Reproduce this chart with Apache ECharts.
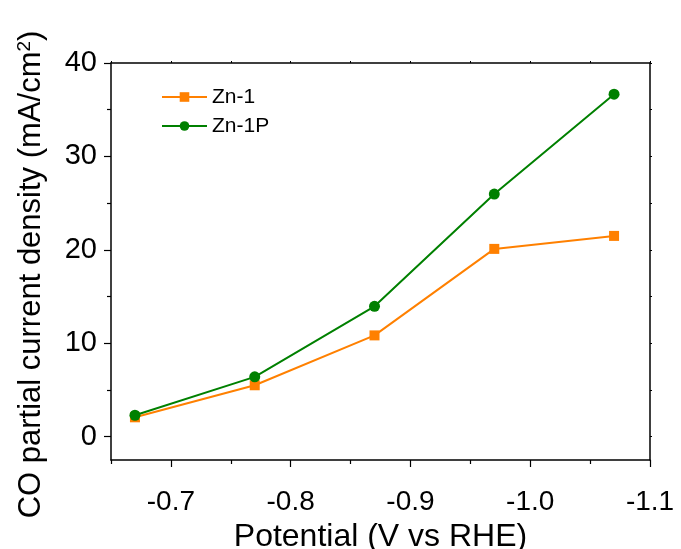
<!DOCTYPE html>
<html>
<head>
<meta charset="utf-8">
<script src="https://cdn.jsdelivr.net/npm/echarts@6/dist/echarts.min.js"></script>
<style>
  html, body { margin: 0; padding: 0; background: #fff; }
  #chart { width: 681px; height: 549px; }
</style>
</head>
<body>
<div id="chart"></div>
<script>
// potentials (V vs RHE) and CO partial current density (mA/cm2)
const potentials = [-0.67, -0.77, -0.87, -0.97, -1.07];
const zn1 = [2.07, 5.5, 10.84, 20.1, 21.49];
const zn1p = [2.29, 6.4, 13.95, 25.97, 36.66];

const xMajor = [-0.7, -0.8, -0.9, -1.0, -1.1];
const xMinor = [-0.65, -0.75, -0.85, -0.95, -1.05];
const yMajor = [0, 10, 20, 30, 40];
const yMinor = [5, 15, 25, 35];

const font = 'Liberation Sans, Arial, sans-serif';
const black = '#000';

function pairs(xs, ys) {
    return xs.map((x, i) => [x, ys[i]]);
}

const xBase = { type: 'value', min: -1.1, max: -0.65, inverse: true, splitLine: { show: false } };
const yBase = { type: 'value', min: -2.5, max: 40, splitLine: { show: false } };

let myChart = echarts.init(document.getElementById('chart'));
myChart.setOption({
    animation: false,
    grid: { left: 111, right: 31, top: 63, bottom: 89, containLabel: false, outerBoundsMode: 'none' },
    legend: {
        orient: 'vertical',
        left: 161,
        top: 85,
        padding: 0,
        itemWidth: 45,
        itemHeight: 12,
        itemGap: 5,
        textStyle: { fontFamily: font, fontSize: 21, color: black, lineHeight: 24 },
        data: ['Zn-1', 'Zn-1P']
    },
    xAxis: [
        Object.assign({}, xBase, {
            position: 'bottom',
            name: 'Potential (V vs RHE)',
            nameLocation: 'middle',
            nameGap: 53,
            nameTextStyle: { fontFamily: font, fontSize: 32, color: black },
            axisLine: { show: true, onZero: false, lineStyle: { color: black, width: 1.5 } },
            axisTick: { show: true, inside: false, length: 7, customValues: xMajor, lineStyle: { color: black, width: 1.2 } },
            axisLabel: {
                customValues: xMajor, margin: 28, fontFamily: font, fontSize: 28, color: black,
                formatter: v => v.toFixed(1)
            }
        }),
        Object.assign({}, xBase, {
            position: 'bottom',
            axisLine: { show: false, onZero: false },
            axisTick: { show: true, inside: false, length: 4, customValues: xMinor, lineStyle: { color: black, width: 1.2 } },
            axisLabel: { show: false }
        }),
        Object.assign({}, xBase, {
            position: 'top',
            axisLine: { show: true, onZero: false, lineStyle: { color: black, width: 1.5 } },
            axisTick: { show: true, inside: false, length: 2, customValues: xMajor.concat(xMinor), lineStyle: { color: black, width: 1 } },
            axisLabel: { show: false }
        })
    ],
    yAxis: [
        Object.assign({}, yBase, {
            position: 'left',
            name: 'CO partial current density (mA/cm{sup|2})',
            nameLocation: 'middle',
            nameGap: 63,
            nameTextStyle: {
                fontFamily: font, fontSize: 31, color: black, padding: [0, 26, 0, 0],
                rich: { sup: { fontFamily: font, fontSize: 19, color: black, verticalAlign: 'top', padding: [0, 0, 14, 0] } }
            },
            axisLine: { show: true, onZero: false, lineStyle: { color: black, width: 1.5 } },
            axisTick: { show: true, inside: false, length: 7, customValues: yMajor, lineStyle: { color: black, width: 1.2 } },
            axisLabel: { customValues: yMajor, margin: 14, fontFamily: font, fontSize: 29, color: black }
        }),
        Object.assign({}, yBase, {
            position: 'left',
            axisLine: { show: false, onZero: false },
            axisTick: { show: true, inside: false, length: 4, customValues: yMinor, lineStyle: { color: black, width: 1.2 } },
            axisLabel: { show: false }
        }),
        Object.assign({}, yBase, {
            position: 'right',
            axisLine: { show: true, onZero: false, lineStyle: { color: black, width: 1.5 } },
            axisTick: { show: true, inside: false, length: 2, customValues: yMajor.concat(yMinor), lineStyle: { color: black, width: 1 } },
            axisLabel: { show: false }
        })
    ],
    series: [
        {
            name: 'Zn-1',
            type: 'line',
            xAxisIndex: 0,
            yAxisIndex: 0,
            data: pairs(potentials, zn1),
            symbol: 'rect',
            symbolSize: 10,
            color: '#ff8000',
            lineStyle: { width: 2, color: '#ff8000' },
            itemStyle: { color: '#ff8000' }
        },
        {
            name: 'Zn-1P',
            type: 'line',
            xAxisIndex: 0,
            yAxisIndex: 0,
            data: pairs(potentials, zn1p),
            symbol: 'circle',
            symbolSize: 11,
            color: '#008000',
            lineStyle: { width: 2, color: '#008000' },
            itemStyle: { color: '#008000' }
        }
    ]
});
</script>
</body>
</html>
